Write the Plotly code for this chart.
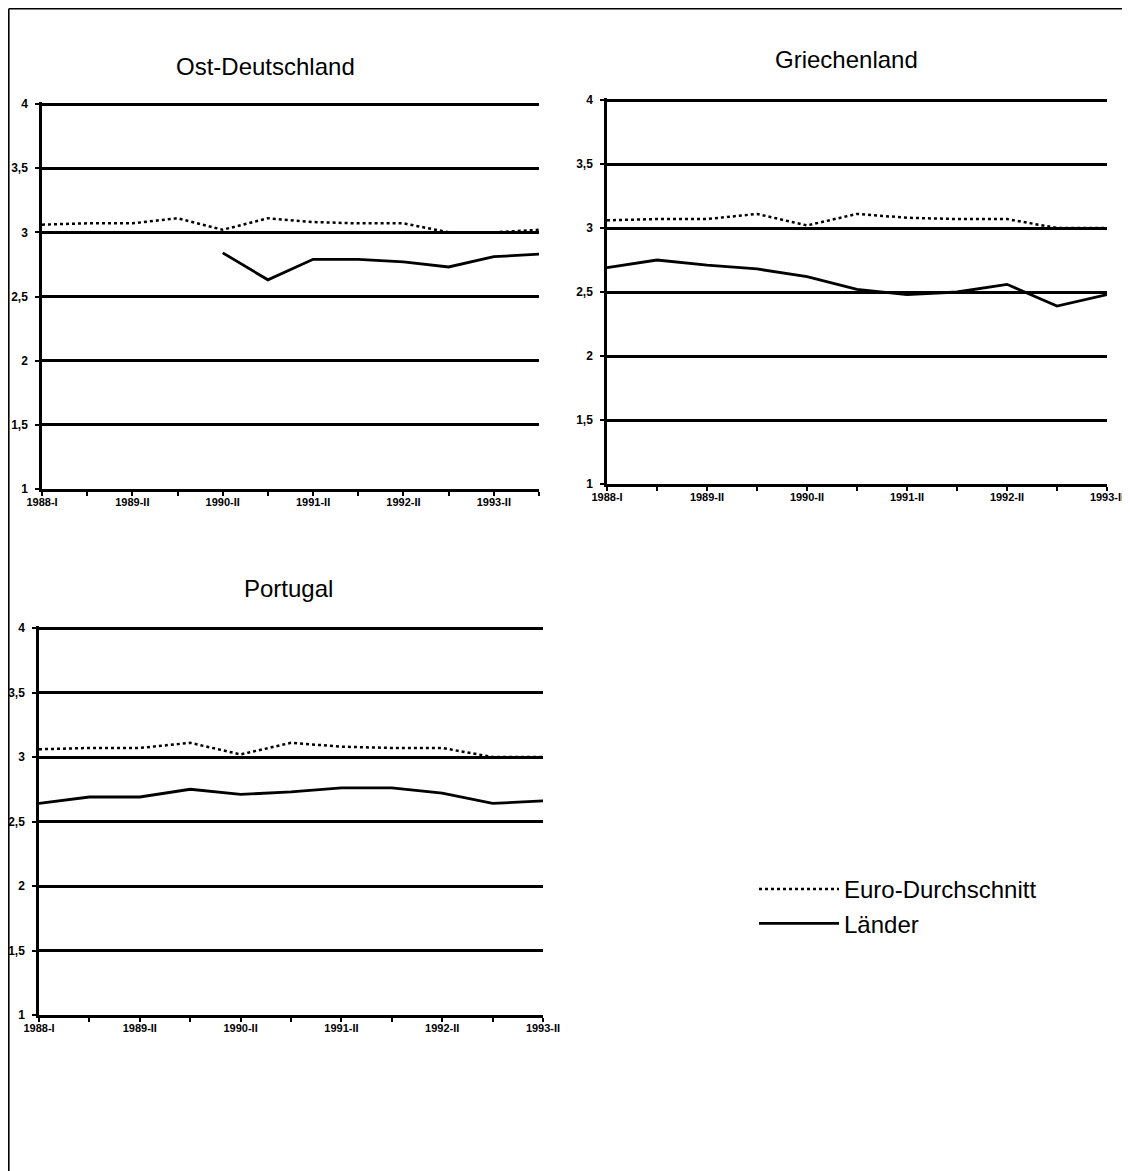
import plotly.graph_objects as go

OFF = 8                      # page body margin of the host page
W, H = 1130 - OFF, 1171 - OFF

# ---------------- data ----------------
labels_12 = ["1988-I", "", "1989-II", "", "1990-II", "", "1991-II", "", "1992-II", "", "1993-II", ""]
labels_11 = ["1988-I", "", "1989-II", "", "1990-II", "", "1991-II", "", "1992-II", "", "1993-II"]

euro = [3.06, 3.07, 3.07, 3.11, 3.02, 3.11, 3.08, 3.07, 3.07, 3.00, 3.00, 3.02]

ost_idx = [4, 5, 6, 7, 8, 9, 10, 11]
ost_vals = [2.84, 2.63, 2.79, 2.79, 2.77, 2.73, 2.81, 2.83]

gr_vals = [2.69, 2.75, 2.71, 2.68, 2.62, 2.52, 2.48, 2.50, 2.56, 2.39, 2.48]
pt_vals = [2.64, 2.69, 2.69, 2.75, 2.71, 2.73, 2.76, 2.76, 2.72, 2.64, 2.66]

y_ticks = [1, 1.5, 2, 2.5, 3, 3.5, 4]
y_text = ["1", "1,5", "2", "2,5", "3", "3,5", "4"]

titles = ["Ost-Deutschland", "Griechenland", "Portugal"]
legend_names = ["Euro-Durchschnitt", "Länder"]


def px_x(p):
    return (p - OFF) / W


def px_y(p):
    return 1 - (p - OFF) / H


fig = go.Figure()

# panel definitions in reference pixels: (x0, x1, y_bottom(=1), y_top(=4))
panels = [
    (42, 539, 489, 104),
    (607, 1107, 484, 100),
    (39, 543, 1015, 628),
]

series = [
    (list(range(12)), euro, ost_idx, ost_vals, labels_12),
    (list(range(11)), euro[:11], list(range(11)), gr_vals, labels_11),
    (list(range(11)), euro[:11], list(range(11)), pt_vals, labels_11),
]

xtick_font = dict(family="Liberation Sans Narrow, Liberation Sans, Arial", size=11, color="black", weight="bold")
ytick_font = dict(family="Liberation Sans, Arial", size=12, color="black", weight="bold")
YTOP = 4.012

for i, ((x0, x1, yb, yt), (ex, ey, lx, ly, lab)) in enumerate(zip(panels, series)):
    n = i + 1
    xa = "x" if n == 1 else f"x{n}"
    ya = "y" if n == 1 else f"y{n}"
    fig.add_trace(go.Scatter(
        x=ex, y=ey, mode="lines", xaxis=xa, yaxis=ya,
        line=dict(color="black", width=2.5, dash="dot"),
        name=legend_names[0], showlegend=(n == 1), legendgroup="e"))
    fig.add_trace(go.Scatter(
        x=lx, y=ly, mode="lines", xaxis=xa, yaxis=ya,
        line=dict(color="black", width=2.8),
        name=legend_names[1], showlegend=(n == 1), legendgroup="l"))

    npts = len(lab)
    top_px = yb - (yb - yt) * (YTOP - 1) / 3
    xkey = "xaxis" if n == 1 else f"xaxis{n}"
    ykey = "yaxis" if n == 1 else f"yaxis{n}"
    fig.update_layout(**{
        xkey: dict(domain=[px_x(x0), px_x(x1)], range=[0, npts - 1],
                   anchor=ya, tickmode="array", tickvals=list(range(npts)), ticktext=lab,
                   ticks="outside", ticklen=4, tickwidth=2, tickcolor="black",
                   showline=True, linecolor="black", linewidth=2.5,
                   showgrid=False, zeroline=False, tickangle=0, automargin=False,
                   ticklabelstandoff=-3,
                   tickfont=xtick_font, fixedrange=True),
        ykey: dict(domain=[px_y(yb), px_y(top_px)], range=[1, YTOP],
                   anchor=xa, tickmode="array", tickvals=y_ticks, ticktext=y_text,
                   ticks="outside", ticklen=4, tickwidth=2, tickcolor="black",
                   showline=True, linecolor="black", linewidth=2.5,
                   showgrid=True, gridcolor="black", gridwidth=2.5, automargin=False,
                   ticklabelstandoff=5,
                   zeroline=False, tickfont=ytick_font, fixedrange=True),
    })

# titles
title_pos = [(265, 66), (846, 59), (288, 588)]
for t, (tx, ty) in zip(titles, title_pos):
    fig.add_annotation(text=t, x=px_x(tx), y=px_y(ty), xref="paper", yref="paper",
                       showarrow=False, xanchor="center", yanchor="middle",
                       font=dict(family="Liberation Sans, Arial", size=24, color="black"))

# frame lines (top and left)
fig.add_shape(type="line", xref="paper", yref="paper",
              x0=0.8 / W, y0=1 - 0.8 / H, x1=1, y1=1 - 0.8 / H,
              line=dict(color="black", width=1.6))
fig.add_shape(type="line", xref="paper", yref="paper",
              x0=0.8 / W, y0=1 - 0.8 / H, x1=0.8 / W, y1=0,
              line=dict(color="black", width=1.6))

fig.update_layout(
    width=W, height=H,
    margin=dict(l=0, r=0, t=0, b=0, autoexpand=False),
    paper_bgcolor="white", plot_bgcolor="white",
    showlegend=True,
    legend=dict(x=px_x(754), y=px_y(867), xanchor="left", yanchor="top",
                font=dict(family="Liberation Sans, Arial", size=24, color="black"),
                itemwidth=80, tracegroupgap=0, bgcolor="rgba(0,0,0,0)"),
)

fig.write_html("out.html")
